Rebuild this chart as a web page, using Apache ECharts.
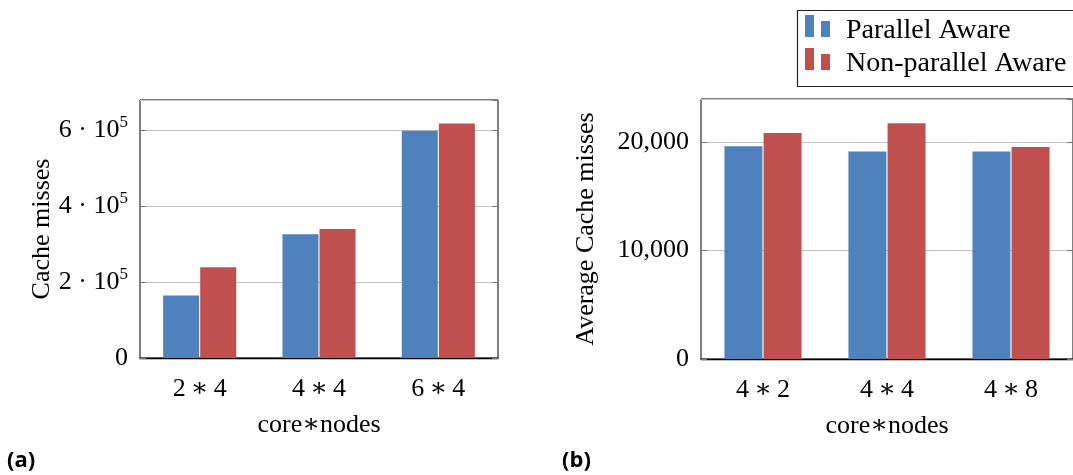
<!DOCTYPE html>
<html>
<head>
<meta charset="utf-8">
<script src="https://cdn.jsdelivr.net/npm/echarts@6/dist/echarts.min.js"></script>
<style>
  html, body { margin: 0; padding: 0; background: #fff; }
  #chart { width: 1073px; height: 475px; }
</style>
</head>
<body>
<div id="chart"></div>
<script>
// panel (a): total cache misses
const catsA = ['2\u2009\u2217\u20094', '4\u2009\u2217\u20094', '6\u2009\u2217\u20094'];
const awareA = [165000, 326000, 599000];
const nonAwareA = [239000, 340000, 618000];

// panel (b): average cache misses
const catsB = ['4\u2009\u2217\u20092', '4\u2009\u2217\u20094', '4\u2009\u2217\u20098'];
const awareB = [19640, 19150, 19150];
const nonAwareB = [20870, 21760, 19580];

const seriesNames = ['Parallel Aware', 'Non-parallel Aware'];
const BLUE = '#4f81bd';
const RED = '#c0504d';
const FONT = '"Liberation Serif", "DejaVu Serif", serif';

const chart = echarts.init(document.getElementById('chart'));

const baseText = { color: '#000', fontFamily: FONT, fontSize: 26 };

function xAxisFor(gridIndex, cats) {
  return {
    type: 'category',
    gridIndex,
    data: cats,
    name: 'core\u2217nodes',
    nameLocation: 'middle',
    nameGap: 54,
    nameTextStyle: baseText,
    axisLine: { lineStyle: { color: '#000', width: 1.3 } },
    axisTick: { show: false },
    axisLabel: Object.assign({ margin: 18 }, baseText)
  };
}

function yAxisFor(gridIndex, max, interval, name, nameGap, fmt, rich) {
  return {
    type: 'value',
    gridIndex,
    min: 0,
    max,
    interval,
    name,
    nameLocation: 'middle',
    nameGap,
    nameTextStyle: baseText,
    axisLine: { show: false },
    axisTick: { show: true, inside: true, length: 6, lineStyle: { color: '#777' } },
    axisLabel: Object.assign({ margin: 12, showMaxLabel: false, formatter: fmt, rich }, baseText),
    splitLine: { show: true, lineStyle: { color: '#c4c4c4', width: 1 } }
  };
}

function rightAxisFor(gridIndex, max, interval) {
  return {
    type: 'value',
    gridIndex,
    min: 0,
    max,
    interval,
    position: 'right',
    axisLine: { show: false },
    axisTick: { show: true, inside: true, length: 6, lineStyle: { color: '#777' } },
    axisLabel: { show: false },
    splitLine: { show: false }
  };
}

const sciFmt = v => v === 0 ? '0' : '{n|' + (v / 1e5) + ' \u00b7 10}{s|5}';
const sciRich = {
  n: { color: '#000', fontFamily: FONT, fontSize: 26 },
  s: { color: '#000', fontFamily: FONT, fontSize: 17, padding: [0, 0, 16, 0] }
};
const commaFmt = v => v.toLocaleString('en-US');

function bar(name, data, color, xi, yi, width) {
  return {
    name,
    type: 'bar',
    xAxisIndex: xi,
    yAxisIndex: yi,
    data,
    barWidth: width,
    barGap: '3%',
    itemStyle: { color },
    emphasis: { disabled: true }
  };
}

const option = {
  animation: false,
  backgroundColor: '#fff',
  textStyle: { fontFamily: FONT },
  grid: [
    { left: 140, top: 100, width: 358, height: 258, show: true, borderColor: '#000', borderWidth: 1, backgroundColor: 'transparent' },
    { left: 701, top: 99, width: 382, height: 260, show: true, borderColor: '#000', borderWidth: 1, backgroundColor: 'transparent' }
  ],
  legend: {
    data: seriesNames,
    orient: 'vertical',
    left: 805,
    top: 15,
    padding: 0,
    itemWidth: 25,
    itemHeight: 31,
    itemGap: 2,
    // two bars, plus a tiny dot at the bottom so the bars sit above the text middle
    icon: 'path://M0,0h9v22h-9z M16,6h9v16h-9z M0,31h0.01v-0.01h-0.01z',
    textStyle: { color: '#000', fontFamily: FONT, fontSize: 28, padding: [0, 0, 0, 11] }
  },
  xAxis: [xAxisFor(0, catsA), xAxisFor(1, catsB)],
  yAxis: [
    yAxisFor(0, 680000, 200000, 'Cache misses', 84, sciFmt, sciRich),
    yAxisFor(1, 24000, 10000, 'Average Cache misses', 102, commaFmt),
    rightAxisFor(0, 680000, 200000),
    rightAxisFor(1, 24000, 10000)
  ],
  series: [
    bar(seriesNames[0], awareA, BLUE, 0, 0, 36),
    bar(seriesNames[1], nonAwareA, RED, 0, 0, 36),
    bar(seriesNames[0], awareB, BLUE, 1, 1, 38),
    bar(seriesNames[1], nonAwareB, RED, 1, 1, 38)
  ],
  graphic: [
    {
      type: 'rect', z: -1,
      shape: { x: 797.5, y: 10.5, width: 300, height: 76 },
      style: { fill: '#fff', stroke: '#222', lineWidth: 1.2 }
    },
    {
      type: 'text', left: 7, top: 450,
      style: { text: '(a)', font: 'bold 22px "Open Sans", "Noto Sans", sans-serif', fill: '#000' }
    },
    {
      type: 'text', left: 562, top: 450,
      style: { text: '(b)', font: 'bold 22px "Open Sans", "Noto Sans", sans-serif', fill: '#000' }
    }
  ]
};

chart.setOption(option);
</script>
</body>
</html>
